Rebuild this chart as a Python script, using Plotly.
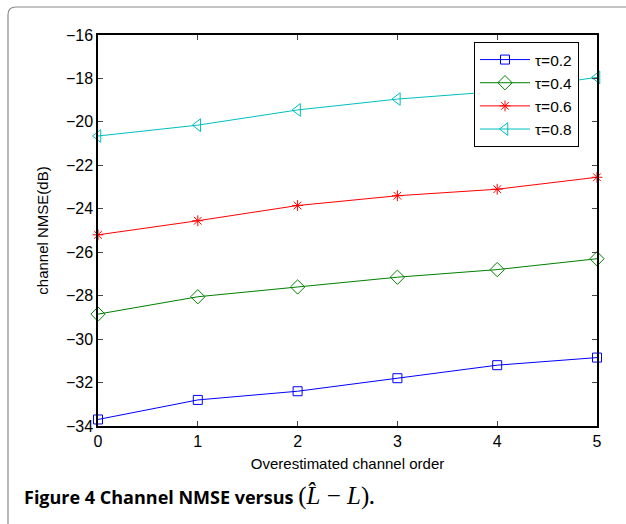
import plotly.graph_objects as go

x_order = [0, 1, 2, 3, 4, 5]
nmse_tau02 = [-33.7, -32.8, -32.4, -31.8, -31.2, -30.85]
nmse_tau04 = [-28.85, -28.05, -27.6, -27.15, -26.8, -26.3]
nmse_tau06 = [-25.2, -24.55, -23.85, -23.4, -23.1, -22.55]
nmse_tau08 = [-20.65, -20.15, -19.45, -18.95, -18.6, -17.95]
series_names = ["τ=0.2", "τ=0.4", "τ=0.6", "τ=0.8"]
y_ticks = [-34, -32, -30, -28, -26, -24, -22, -20, -18, -16]
x_ticks = [0, 1, 2, 3, 4, 5]

styles = [
    ("#0000FF", "square-open", 9),
    ("#008000", "diamond-open", 11),
    ("#FF0000", "asterisk-open", 9),
    ("#00BFBF", "triangle-left-open", 11),
]

fig = go.Figure()
for ys, name, (col, sym, sz) in zip([nmse_tau02, nmse_tau04, nmse_tau06, nmse_tau08], series_names, styles):
    fig.add_trace(go.Scatter(
        x=x_order, y=ys, name=name, mode="lines+markers",
        line=dict(color=col, width=1),
        marker=dict(symbol=sym, size=sz, color=col, line=dict(color=col, width=1)),
        cliponaxis=False,
    ))

L, R, T, B = 98, 29, 35, 98
W, H = 626, 524
pw, ph = W - L - R, H - T - B

def px2paper_x(px):
    return (px - L) / pw

def px2paper_y(py):
    return (H - B - py) / ph

x0 = px2paper_x(8)
ytop = px2paper_y(7)
ybot = px2paper_y(530)
xr = px2paper_x(640)
rx = 8 / pw
ry = 8 / ph
path = (f"M {x0},{ybot} L {x0},{ytop - ry} Q {x0},{ytop} {x0 + rx},{ytop} L {xr},{ytop}")

fig.update_layout(
    width=W, height=H,
    margin=dict(l=L, r=R, t=T, b=B),
    paper_bgcolor="white", plot_bgcolor="white",
    font=dict(family="Liberation Sans, Arial, sans-serif", color="black", size=16),
    showlegend=True,
    legend=dict(
        x=px2paper_x(474), y=px2paper_y(42), xanchor="left", yanchor="top",
        bordercolor="black", borderwidth=1, bgcolor="white",
        font=dict(size=15.5, family="Liberation Sans, Arial, sans-serif"),
        tracegroupgap=0, itemwidth=50,
    ),
    xaxis=dict(
        range=[0, 5], tickvals=x_ticks, ticks="inside", ticklen=5, tickwidth=1,
        showline=True, linecolor="black", linewidth=1.5, mirror="ticks",
        showgrid=False, zeroline=False,
        title=dict(text="Overestimated channel order", font=dict(size=15), standoff=10),
        tickfont=dict(size=16),
    ),
    yaxis=dict(
        range=[-34, -16], tickvals=y_ticks, ticks="inside", ticklen=5, tickwidth=1,
        showline=True, linecolor="black", linewidth=1.5, mirror="ticks",
        showgrid=False, zeroline=False,
        title=dict(text="channel NMSE(dB)", font=dict(size=15), standoff=14),
        tickfont=dict(size=16),
    ),
    shapes=[dict(type="path", path=path, xref="paper", yref="paper",
                 line=dict(color="#8a8a8a", width=1.2), layer="above")],
    annotations=[dict(
        x=px2paper_x(22), y=px2paper_y(496), xref="paper", yref="paper",
        xanchor="left", yanchor="middle", showarrow=False,
        text=("<b>Figure 4 Channel NMSE versus</b> "
              "<span style='font-family:Liberation Serif, serif;font-size:25px'>(<i>L̂</i>&nbsp;−&nbsp;<i>L</i>)</span><b>.</b>"),
        font=dict(family="Open Sans, sans-serif", size=18, color="black"),
    )],
)

fig.write_html("out.html")
